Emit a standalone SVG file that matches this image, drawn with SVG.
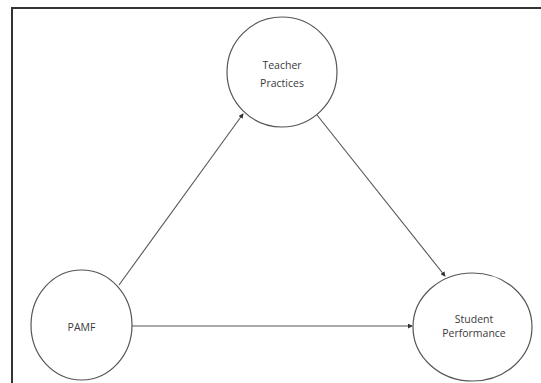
<svg xmlns="http://www.w3.org/2000/svg" width="541" height="383" viewBox="0 0 541 383">
<style>
.node ellipse{fill:#ffffff;stroke:#555555;stroke-width:1.2}
.node text{font-family:"Open Sans","Liberation Sans",sans-serif;font-size:10.5px;fill:#3a3a3a;text-anchor:middle}
.conn line{stroke:#555555;stroke-width:1.1;fill:none;marker-end:url(#arr)}
</style>
<defs>
<marker id="arr" viewBox="0 0 6 6" refX="5" refY="3" markerWidth="5" markerHeight="5" markerUnits="userSpaceOnUse" orient="auto">
<path d="M0,0 L6,3 L0,6 Z" fill="#333333"/>
</marker>
</defs>
<rect x="0" y="0" width="541" height="383" fill="#ffffff"/>
<rect x="12" y="8" width="545" height="395" fill="none" stroke="#333333" stroke-width="2"/>
<g class="conn">
<line x1="119" y1="285" x2="243" y2="114"/>
<line x1="317" y1="115" x2="445" y2="276"/>
<line x1="132" y1="326" x2="412" y2="326"/>
</g>
<g id="teacher" class="node">
<ellipse cx="282" cy="72" rx="55" ry="55"/>
<text x="282" y="69">Teacher</text>
<text x="282" y="87">Practices</text>
</g>
<g id="pamf" class="node">
<ellipse cx="81.5" cy="325" rx="50.5" ry="55"/>
<text x="81.5" y="331">PAMF</text>
</g>
<g id="student" class="node">
<ellipse cx="472.5" cy="327" rx="59.5" ry="54"/>
<text x="474" y="323">Student</text>
<text x="474" y="337">Performance</text>
</g>
</svg>
